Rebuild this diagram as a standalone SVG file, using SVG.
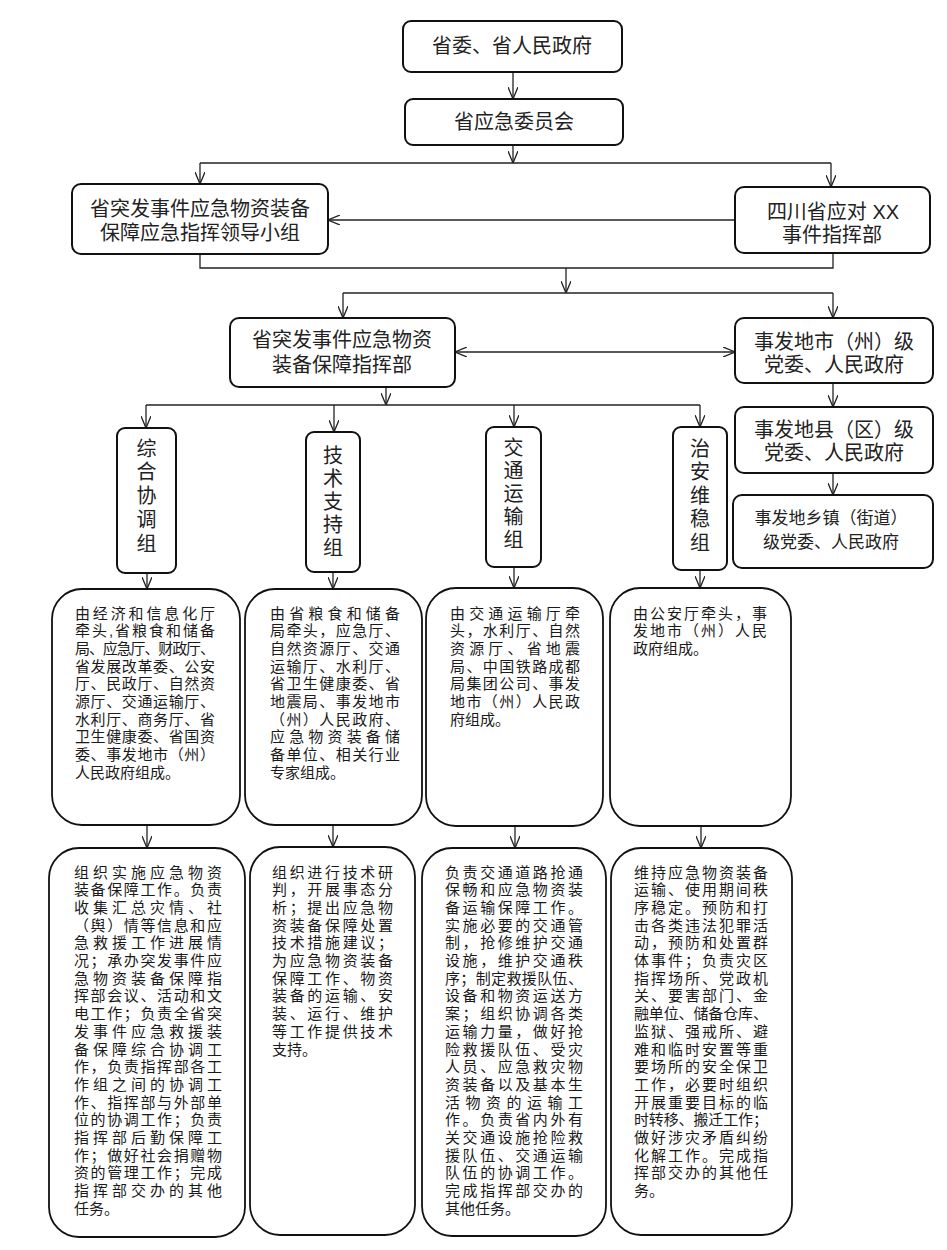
<svg xmlns="http://www.w3.org/2000/svg" width="947" height="1250" viewBox="0 0 947 1250">
<style>
.bx{fill:#fff;stroke:#111;stroke-width:2}
.db{fill:#fff;stroke:#111;stroke-width:1.8}
.hd{font-family:"Liberation Sans","Noto Sans CJK SC",sans-serif;font-size:20px;fill:#222;text-anchor:middle}
.vt{font-family:"Noto Sans CJK SC",sans-serif;font-size:20px;fill:#222;writing-mode:vertical-rl;text-orientation:upright;letter-spacing:3.5px}
.sm{font-family:"Liberation Sans","Noto Sans CJK SC",sans-serif;font-size:17px;fill:#222;text-anchor:middle}
.bd{font-family:"Liberation Sans","Noto Sans CJK SC",sans-serif;font-size:15px;fill:#1a1a1a}
.cn{fill:none;stroke:#222;stroke-width:1.3}
.ar{marker-end:url(#ah)}
</style>
<defs>
<marker id="ah" markerUnits="userSpaceOnUse" viewBox="0 0 12 10" markerWidth="12" markerHeight="10" refX="12" refY="5" orient="auto">
<path d="M0,0 L12,5 L0,10" fill="none" stroke="#222" stroke-width="1.3"/>
</marker>
<marker id="as" markerUnits="userSpaceOnUse" viewBox="0 0 12 10" markerWidth="12" markerHeight="10" refX="0" refY="5" orient="auto">
<path d="M12,0 L0,5 L12,10" fill="none" stroke="#222" stroke-width="1.3"/>
</marker>
</defs>
<rect width="947" height="1250" fill="#fff"/>
<g id="connectors">
<path class="cn ar" d="M513,72 V99"/>
<path class="cn ar" d="M513,145 V163"/>
<path class="cn" d="M200,163 H831"/>
<path class="cn ar" d="M200,163 V184"/>
<path class="cn ar" d="M831,163 V187"/>
<path class="cn ar" d="M735,220 H328"/>
<path class="cn" d="M200,254 V268 H833 V253"/>
<path class="cn ar" d="M566,268 V293"/>
<path class="cn" d="M343,293 H833"/>
<path class="cn ar" d="M343,293 V318"/>
<path class="cn ar" d="M833,293 V318"/>
<path class="cn" d="M455,352 H735" marker-start="url(#as)" marker-end="url(#ah)"/>
<path class="cn ar" d="M386,387 V405"/>
<path class="cn" d="M146,405 H700"/>
<path class="cn ar" d="M146,405 V428"/>
<path class="cn ar" d="M334,405 V432"/>
<path class="cn ar" d="M514,405 V427"/>
<path class="cn ar" d="M700,405 V427"/>
<path class="cn ar" d="M833,383 V407"/>
<path class="cn ar" d="M833,473 V495"/>
<path class="cn ar" d="M147,573 V589"/>
<path class="cn ar" d="M333,572 V589"/>
<path class="cn ar" d="M514,567 V588"/>
<path class="cn ar" d="M700,570 V588"/>
<path class="cn ar" d="M147,825 V848"/>
<path class="cn ar" d="M333,825 V847"/>
<path class="cn ar" d="M515,826 V848"/>
<path class="cn ar" d="M701,826 V848"/>
</g>
<g id="n1"><rect class="bx" x="403" y="21" width="219" height="51" rx="8"/><text class="hd" x="512" y="53">省委、省人民政府</text></g>
<g id="n2"><rect class="bx" x="405" y="99" width="218" height="46" rx="8"/><text class="hd" x="514" y="129">省应急委员会</text></g>
<g id="n3"><rect class="bx" x="72" y="184" width="256" height="70" rx="9"/><text class="hd" x="200"><tspan x="200" y="216">省突发事件应急物资装备</tspan><tspan x="200" y="240">保障应急指挥领导小组</tspan></text></g>
<g id="n4"><rect class="bx" x="735" y="187" width="195" height="66" rx="9"/><text class="hd"><tspan x="833" y="219">四川省应对 XX</tspan><tspan x="832" y="242">事件指挥部</tspan></text></g>
<g id="n5"><rect class="bx" x="230" y="318" width="225" height="69" rx="9"/><text class="hd"><tspan x="342" y="347">省突发事件应急物资</tspan><tspan x="342" y="372">装备保障指挥部</tspan></text></g>
<g id="n6"><rect class="bx" x="735" y="318" width="198" height="65" rx="9"/><text class="hd"><tspan x="834" y="349">事发地市（州）级</tspan><tspan x="834" y="372">党委、人民政府</tspan></text></g>
<g id="n7"><rect class="bx" x="735" y="407" width="198" height="66" rx="9"/><text class="hd"><tspan x="834" y="437">事发地县（区）级</tspan><tspan x="834" y="460">党委、人民政府</tspan></text></g>
<g id="n8"><rect class="bx" x="733" y="495" width="200" height="73" rx="9"/><text class="sm"><tspan x="831" y="524">事发地乡镇（街道）</tspan><tspan x="831" y="548">级党委、人民政府</tspan></text></g>
<g id="g1"><rect class="bx" x="117" y="428" width="59" height="145" rx="8"/><text class="vt" x="146.5" y="438" style="letter-spacing:3.8px">综合协调组</text></g>
<g id="g2"><rect class="bx" x="306" y="432" width="54" height="140" rx="8"/><text class="vt" x="333" y="445" style="letter-spacing:3px">技术支持组</text></g>
<g id="g3"><rect class="bx" x="486" y="427" width="55" height="140" rx="8"/><text class="vt" x="513.5" y="437" style="letter-spacing:3.2px">交通运输组</text></g>
<g id="g4"><rect class="bx" x="673" y="427" width="54" height="143" rx="8"/><text class="vt" x="700" y="438" style="letter-spacing:3.5px">治安维稳组</text></g>
<g id="m1"><rect class="db" x="52" y="589" width="188" height="236" rx="30"/>
<text class="bd">
<tspan x="75" y="618.5" textLength="140">由经济和信息化厅</tspan>
<tspan x="75" y="636.2" textLength="140">牵头,省粮食和储备</tspan>
<tspan x="75" y="653.9" textLength="140">局、应急厅、财政厅、</tspan>
<tspan x="75" y="671.6" textLength="140">省发展改革委、公安</tspan>
<tspan x="75" y="689.3" textLength="140">厅、民政厅、自然资</tspan>
<tspan x="75" y="707" textLength="140">源厅、交通运输厅、</tspan>
<tspan x="75" y="724.7" textLength="140">水利厅、商务厅、省</tspan>
<tspan x="75" y="742.4" textLength="140">卫生健康委、省国资</tspan>
<tspan x="75" y="760.1" textLength="140">委、事发地市（州）</tspan>
<tspan x="75" y="777.8">人民政府组成。</tspan></text></g>
<g id="m2"><rect class="db" x="245" y="589" width="177" height="236" rx="30"/>
<text class="bd">
<tspan x="270" y="618.5" textLength="130">由省粮食和储备</tspan>
<tspan x="270" y="636.2" textLength="130">局牵头，应急厅、</tspan>
<tspan x="270" y="653.9" textLength="130">自然资源厅、交通</tspan>
<tspan x="270" y="671.6" textLength="130">运输厅、水利厅、</tspan>
<tspan x="270" y="689.3" textLength="130">省卫生健康委、省</tspan>
<tspan x="270" y="707" textLength="130">地震局、事发地市</tspan>
<tspan x="270" y="724.7" textLength="130">（州）人民政府、</tspan>
<tspan x="270" y="742.4" textLength="130">应急物资装备储</tspan>
<tspan x="270" y="760.1" textLength="130">备单位、相关行业</tspan>
<tspan x="270" y="777.8">专家组成。</tspan></text></g>
<g id="m3"><rect class="db" x="426" y="588" width="177" height="238" rx="30"/>
<text class="bd">
<tspan x="450" y="618.5" textLength="130">由交通运输厅牵</tspan>
<tspan x="450" y="636.2" textLength="130">头，水利厅、自然</tspan>
<tspan x="450" y="653.9" textLength="130">资源厅、省地震</tspan>
<tspan x="450" y="671.6" textLength="130">局、中国铁路成都</tspan>
<tspan x="450" y="689.3" textLength="130">局集团公司、事发</tspan>
<tspan x="450" y="707" textLength="130">地市（州）人民政</tspan>
<tspan x="450" y="724.7">府组成。</tspan></text></g>
<g id="m4"><rect class="db" x="610" y="588" width="181" height="238" rx="30"/>
<text class="bd">
<tspan x="633" y="618.5" textLength="134">由公安厅牵头，事</tspan>
<tspan x="633" y="636.2" textLength="134">发地市（州）人民</tspan>
<tspan x="633" y="653.9">政府组成。</tspan></text></g>
<g id="d1"><rect class="db" x="49" y="848" width="196" height="389" rx="30"/>
<text class="bd">
<tspan x="74" y="877.5" textLength="148">组织实施应急物资</tspan>
<tspan x="74" y="895.2" textLength="148">装备保障工作。负责</tspan>
<tspan x="74" y="912.9" textLength="148">收集汇总灾情、社</tspan>
<tspan x="74" y="930.6" textLength="148">（舆）情等信息和应</tspan>
<tspan x="74" y="948.3" textLength="148">急救援工作进展情</tspan>
<tspan x="74" y="966" textLength="148">况；承办突发事件应</tspan>
<tspan x="74" y="983.7" textLength="148">急物资装备保障指</tspan>
<tspan x="74" y="1001.4" textLength="148">挥部会议、活动和文</tspan>
<tspan x="74" y="1019.1" textLength="148">电工作；负责全省突</tspan>
<tspan x="74" y="1036.8" textLength="148">发事件应急救援装</tspan>
<tspan x="74" y="1054.5" textLength="148">备保障综合协调工</tspan>
<tspan x="74" y="1072.2" textLength="148">作，负责指挥部各工</tspan>
<tspan x="74" y="1089.9" textLength="148">作组之间的协调工</tspan>
<tspan x="74" y="1107.6" textLength="148">作、指挥部与外部单</tspan>
<tspan x="74" y="1125.3" textLength="148">位的协调工作；负责</tspan>
<tspan x="74" y="1143" textLength="148">指挥部后勤保障工</tspan>
<tspan x="74" y="1160.7" textLength="148">作；做好社会捐赠物</tspan>
<tspan x="74" y="1178.4" textLength="148">资的管理工作；完成</tspan>
<tspan x="74" y="1196.1" textLength="148">指挥部交办的其他</tspan>
<tspan x="74" y="1213.8">任务。</tspan></text></g>
<g id="d2"><rect class="db" x="250" y="847" width="165" height="388" rx="30"/>
<text class="bd">
<tspan x="272" y="877.5" textLength="121">组织进行技术研</tspan>
<tspan x="272" y="895.2" textLength="121">判，开展事态分</tspan>
<tspan x="272" y="912.9" textLength="121">析；提出应急物</tspan>
<tspan x="272" y="930.6" textLength="121">资装备保障处置</tspan>
<tspan x="272" y="948.3" textLength="121">技术措施建议；</tspan>
<tspan x="272" y="966" textLength="121">为应急物资装备</tspan>
<tspan x="272" y="983.7" textLength="121">保障工作、物资</tspan>
<tspan x="272" y="1001.4" textLength="121">装备的运输、安</tspan>
<tspan x="272" y="1019.1" textLength="121">装、运行、维护</tspan>
<tspan x="272" y="1036.8" textLength="121">等工作提供技术</tspan>
<tspan x="272" y="1054.5">支持。</tspan></text></g>
<g id="d3"><rect class="db" x="422" y="848" width="184" height="388" rx="30"/>
<text class="bd">
<tspan x="445" y="877.5" textLength="138">负责交通道路抢通</tspan>
<tspan x="445" y="895.2" textLength="138">保畅和应急物资装</tspan>
<tspan x="445" y="912.9" textLength="138">备运输保障工作。</tspan>
<tspan x="445" y="930.6" textLength="138">实施必要的交通管</tspan>
<tspan x="445" y="948.3" textLength="138">制，抢修维护交通</tspan>
<tspan x="445" y="966" textLength="138">设施，维护交通秩</tspan>
<tspan x="445" y="983.7" textLength="138">序；制定救援队伍、</tspan>
<tspan x="445" y="1001.4" textLength="138">设备和物资运送方</tspan>
<tspan x="445" y="1019.1" textLength="138">案；组织协调各类</tspan>
<tspan x="445" y="1036.8" textLength="138">运输力量，做好抢</tspan>
<tspan x="445" y="1054.5" textLength="138">险救援队伍、受灾</tspan>
<tspan x="445" y="1072.2" textLength="138">人员、应急救灾物</tspan>
<tspan x="445" y="1089.9" textLength="138">资装备以及基本生</tspan>
<tspan x="445" y="1107.6" textLength="138">活物资的运输工</tspan>
<tspan x="445" y="1125.3" textLength="138">作。负责省内外有</tspan>
<tspan x="445" y="1143" textLength="138">关交通设施抢险救</tspan>
<tspan x="445" y="1160.7" textLength="138">援队伍、交通运输</tspan>
<tspan x="445" y="1178.4" textLength="138">队伍的协调工作。</tspan>
<tspan x="445" y="1196.1" textLength="138">完成指挥部交办的</tspan>
<tspan x="445" y="1213.8">其他任务。</tspan></text></g>
<g id="d4"><rect class="db" x="611" y="848" width="181" height="387" rx="30"/>
<text class="bd">
<tspan x="634" y="877.5" textLength="134">维持应急物资装备</tspan>
<tspan x="634" y="895.2" textLength="134">运输、使用期间秩</tspan>
<tspan x="634" y="912.9" textLength="134">序稳定。预防和打</tspan>
<tspan x="634" y="930.6" textLength="134">击各类违法犯罪活</tspan>
<tspan x="634" y="948.3" textLength="134">动，预防和处置群</tspan>
<tspan x="634" y="966" textLength="134">体事件；负责灾区</tspan>
<tspan x="634" y="983.7" textLength="134">指挥场所、党政机</tspan>
<tspan x="634" y="1001.4" textLength="134">关、要害部门、金</tspan>
<tspan x="634" y="1019.1" textLength="134">融单位、储备仓库、</tspan>
<tspan x="634" y="1036.8" textLength="134">监狱、强戒所、避</tspan>
<tspan x="634" y="1054.5" textLength="134">难和临时安置等重</tspan>
<tspan x="634" y="1072.2" textLength="134">要场所的安全保卫</tspan>
<tspan x="634" y="1089.9" textLength="134">工作，必要时组织</tspan>
<tspan x="634" y="1107.6" textLength="134">开展重要目标的临</tspan>
<tspan x="634" y="1125.3" textLength="134">时转移、搬迁工作；</tspan>
<tspan x="634" y="1143" textLength="134">做好涉灾矛盾纠纷</tspan>
<tspan x="634" y="1160.7" textLength="134">化解工作。完成指</tspan>
<tspan x="634" y="1178.4" textLength="134">挥部交办的其他任</tspan>
<tspan x="634" y="1196.1">务。</tspan></text></g>
</svg>
